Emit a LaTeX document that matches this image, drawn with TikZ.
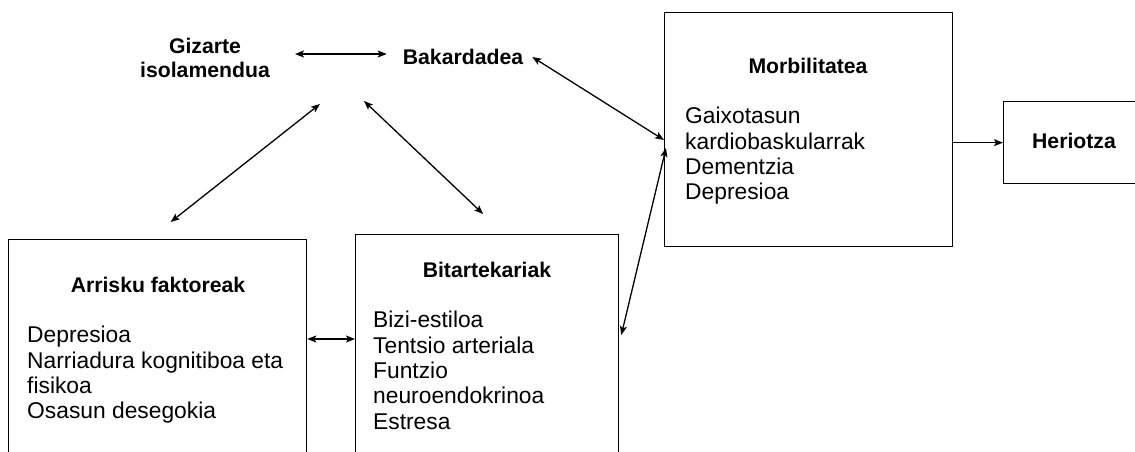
\documentclass[tikz,border=0pt]{standalone}
\usepackage{fontspec}
\setmainfont{Liberation Sans}
\usetikzlibrary{arrows.meta}
\begin{document}
\begin{tikzpicture}[x=1pt,y=-1pt,
  frame/.style={draw, line width=1.3pt, inner sep=0pt, anchor=north west},
  title/.style={font=\fontsize{21.2}{24}\selectfont\bfseries, inner sep=0pt, align=center},
  items/.style={font=\fontsize{22.8}{25.4}\selectfont, align=left, anchor=north west, inner sep=0pt},
  link/.style={line width=1.3pt, {Stealth[length=9pt,width=7pt,inset=2pt]}-{Stealth[length=9pt,width=7pt,inset=2pt]}},
  onelink/.style={line width=1.3pt, -{Stealth[length=9pt,width=7pt,inset=2pt]}}]
\useasboundingbox (0,0) rectangle (1135,452);
\clip (0,0) rectangle (1135,452);
% boxes
\node[frame, minimum width=298pt, minimum height=240pt] (arr) at (8,239) {};
\node[frame, minimum width=263pt, minimum height=240pt] (bit) at (355,234) {};
\node[frame, minimum width=288pt, minimum height=234pt] (mor) at (664,12) {};
\node[frame, minimum width=160pt, minimum height=82pt] (her) at (1003,101) {};
% titles
\node[title] (arrt) at (158,285) {Arrisku faktoreak};
\node[title] (bitt) at (487,270) {Bitartekariak};
\node[title] (mort) at (808,66) {Morbilitatea};
\node[title] (hert) at (1074,141) {Heriotza};
\node[title] (giz) at (205,58) {Gizarte\\isolamendua};
\node[title] (bak) at (463,57) {Bakardadea};
% items
\node[items] (arri) at (27,326) {Depresioa\\Narriadura kognitiboa eta\\fisikoa\\Osasun desegokia};
\node[items] (biti) at (373,311) {Bizi-estiloa\\Tentsio arteriala\\Funtzio\\neuroendokrinoa\\Estresa};
\node[items] (mori) at (685,107) {Gaixotasun\\kardiobaskularrak\\Dementzia\\Depresioa};
% free ends
\coordinate (apexL) at (320,104);
\coordinate (apexR) at (364,101);
% connectors
\draw[link] ([shift={(25,-4)}]giz.east) -- ([shift={(-16,-3)}]bak.west);
\draw[link] ([shift={(9,0)}]bak.east) -- ([shift={(0,128)}]mor.north west);
\draw[link] (apexL) -- ([shift={(13,-17)}]arr.north);
\draw[link] (apexR) -- ([shift={(-4,-20)}]bit.north);
\draw[link] ([shift={(0,100)}]arr.north east) -- ([shift={(0,105)}]bit.north west);
\draw[link] ([shift={(2,101)}]bit.north east) -- ([shift={(2,136)}]mor.north west);
\draw[onelink] (mor.east |- her.west) -- (her.west);
\end{tikzpicture}
\end{document}
